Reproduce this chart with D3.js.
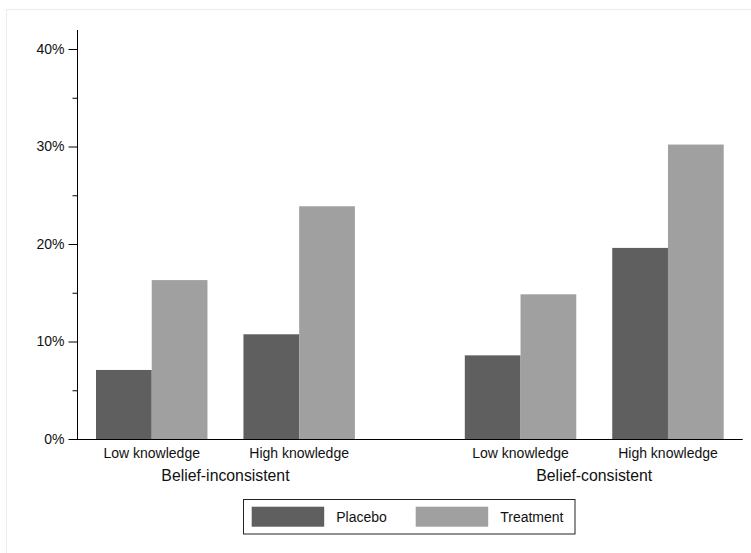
<!DOCTYPE html>
<html>
<head>
<meta charset="utf-8">
<script src="https://cdn.jsdelivr.net/npm/d3@7"></script>
<style>
  html, body { margin: 0; padding: 0; background: #fff; }
  svg { display: block; font-family: "Liberation Sans", Arial, Helvetica, sans-serif; }
</style>
</head>
<body>
<svg id="chart" width="751" height="553"></svg>
<script>
// ---- data ----
const groups = ["Belief-inconsistent", "Belief-consistent"];
const knowledge = ["Low knowledge", "High knowledge"];
const series = ["Placebo", "Treatment"];
// values[group][knowledge] = [Placebo, Treatment]
const placeboValues = [0.0708, 0.1074, 0.0858, 0.1960];
const treatmentValues = [0.1630, 0.2387, 0.1484, 0.3020];
const yTicks = [0, 0.1, 0.2, 0.3, 0.4];
const yMinorTicks = [0.05, 0.15, 0.25, 0.35];
const colors = ["#5f5f5f", "#a0a0a0"];

const rows = [];
groups.forEach((g, gi) => knowledge.forEach((k, ki) => {
  const idx = gi * 2 + ki;
  rows.push({ group: g, level: k, values: [placeboValues[idx], treatmentValues[idx]] });
}));

const svg = d3.select("#chart");

// faint outer frame
svg.append("rect").attr("x", 6.5).attr("y", 9.5).attr("width", 800).attr("height", 600)
  .attr("fill", "none").attr("stroke", "#ececec");

const x0 = 77, x1 = 742.7, yTop = 30, yBottom = 439;

const y = d3.scaleLinear().domain([0, 0.4195]).range([yBottom, yTop]);
const gx = d3.scalePoint().domain(groups).range([x0, x1]).padding(0.4025);
const groupWidth = gx.step() * 0.702;
const kx = d3.scaleBand().domain(knowledge).range([-groupWidth / 2, groupWidth / 2])
  .paddingInner(0.244).paddingOuter(0);
const sx = d3.scaleBand().domain(series).range([0, kx.bandwidth()]).padding(0);

// bars
const cells = svg.append("g").selectAll("g.cell").data(rows).join("g")
  .attr("transform", d => `translate(${gx(d.group) + kx(d.level)},0)`);
cells.selectAll("rect").data(d => d.values.map((v, i) => ({ s: series[i], v, i }))).join("rect")
  .attr("x", d => sx(d.s))
  .attr("width", sx.bandwidth())
  .attr("y", d => y(d.v))
  .attr("height", d => yBottom - y(d.v))
  .attr("fill", d => colors[d.i]);

// y axis
const yAxis = d3.axisLeft(y).tickValues(yTicks).tickFormat(d3.format(".0%")).tickSize(8.5).tickPadding(4);
const ya = svg.append("g").attr("transform", `translate(${x0},0)`).call(yAxis);
ya.select(".domain").remove();
ya.selectAll(".tick line").attr("stroke", "#000");
ya.selectAll(".tick text").attr("font-size", 14).attr("fill", "#111")
  .attr("font-family", "Liberation Sans, Arial, sans-serif");
const yMinor = d3.axisLeft(y).tickValues(yMinorTicks).tickFormat("").tickSize(4.5);
const ym = svg.append("g").attr("transform", `translate(${x0},0)`).call(yMinor);
ym.select(".domain").remove();
ym.selectAll(".tick line").attr("stroke", "#000");
svg.append("line").attr("x1", x0 + 0.5).attr("x2", x0 + 0.5).attr("y1", yTop).attr("y2", yBottom)
  .attr("stroke", "#000");

// x axis line
svg.append("line").attr("x1", x0).attr("x2", x1).attr("y1", yBottom + 0.5).attr("y2", yBottom + 0.5)
  .attr("stroke", "#000");

// category labels
svg.append("g").selectAll("text").data(rows).join("text")
  .attr("x", d => gx(d.group) + kx(d.level) + kx.bandwidth() / 2)
  .attr("y", 458)
  .attr("text-anchor", "middle").attr("font-size", 14).attr("fill", "#111")
  .text(d => d.level);

// group labels
svg.append("g").selectAll("text").data(groups).join("text")
  .attr("x", d => gx(d)).attr("y", 481)
  .attr("text-anchor", "middle").attr("font-size", 15.8).attr("fill", "#111")
  .text(d => d);

// legend
const lg = svg.append("g");
lg.append("rect").attr("x", 243.5).attr("y", 499.5).attr("width", 331.5).attr("height", 34.5)
  .attr("fill", "#fff").attr("stroke", "#222");
const legendX = [251.7, 415.7];
series.forEach((s, i) => {
  lg.append("rect").attr("x", legendX[i]).attr("y", 506.7).attr("width", 72.5).attr("height", 20)
    .attr("fill", colors[i]);
  lg.append("text").attr("x", legendX[i] + 84.5).attr("y", 521.5)
    .attr("font-size", 14).attr("fill", "#111").text(s);
});
</script>
</body>
</html>
